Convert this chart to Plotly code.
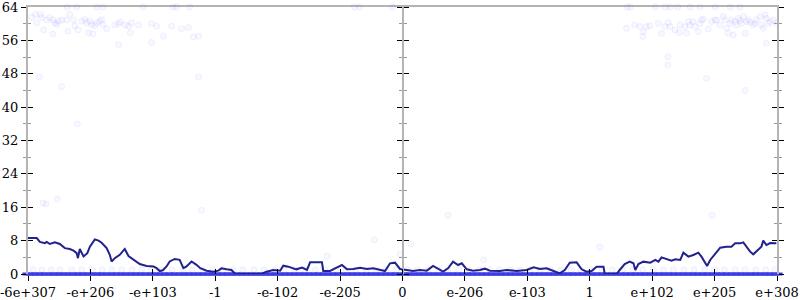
import plotly.graph_objects as go

# ---- data -------------------------------------------------------------
tick_vals = [-6, -5, -4, -3, -2, -1, 0, 1, 2, 3, 4, 5, 6]
tick_text = ["-6e+307", "-e+206", "-e+103", "-1", "-e-102", "-e-205", "0",
             "e-206", "e-103", "1", "e+102", "e+205", "e+308"]
y_ticks = [0, 8, 16, 24, 32, 40, 48, 56, 64]
y_minor = [4, 12, 20, 28, 36, 44, 52, 60]

# moving average line
avg_x = [-6.0, -5.86, -5.81, -5.73, -5.70, -5.65, -5.57, -5.49, -5.41, -5.33, -5.27, -5.22,
         -5.20, -5.17, -5.11, -5.05, -5.01, -4.93, -4.87, -4.82, -4.74, -4.69, -4.66, -4.61,
         -4.53, -4.45, -4.39, -4.31, -4.21, -4.10, -3.99, -3.94, -3.89, -3.84, -3.78, -3.73,
         -3.65, -3.57, -3.51, -3.46, -3.38, -3.30, -3.24, -3.14, -3.03, -2.95, -2.90, -2.82,
         -2.74, -2.68, -2.55, -2.26, -2.18, -2.07, -1.96, -1.91, -1.83, -1.75, -1.70, -1.61,
         -1.53, -1.48, -1.29, -1.27, -1.16, -1.08, -0.97, -0.89, -0.79, -0.68, -0.57, -0.47,
         -0.36, -0.28, -0.20, -0.12, -0.04, 0.07, 0.17, 0.28, 0.39, 0.49, 0.60, 0.65,
         0.73, 0.81, 0.89, 0.95, 1.03, 1.13, 1.24, 1.32, 1.40, 1.56, 1.67, 1.83,
         1.99, 2.10, 2.20, 2.31, 2.42, 2.52, 2.60, 2.68, 2.79, 2.87, 2.95, 3.03,
         3.11, 3.16, 3.22, 3.24, 3.43, 3.48, 3.56, 3.64, 3.70, 3.73, 3.78, 3.86,
         3.97, 4.05, 4.10, 4.15, 4.23, 4.31, 4.37, 4.45, 4.50, 4.58, 4.66, 4.74,
         4.79, 4.85, 4.88, 4.93, 5.01, 5.09, 5.19, 5.27, 5.33, 5.41, 5.46, 5.51,
         5.57, 5.62, 5.70, 5.75, 5.78, 5.83, 5.89, 5.99]
avg_y = [8.6, 8.6, 7.7, 7.4, 7.7, 7.2, 7.6, 7.2, 6.2, 6.0, 5.6, 5.0,
         3.8, 6.0, 4.2, 5.0, 6.5, 8.3, 8.0, 7.5, 6.2, 4.6, 3.0, 3.8,
         4.6, 6.0, 4.3, 3.4, 2.4, 1.9, 1.8, 1.4, 0.7, 0.9, 1.8, 3.0,
         3.6, 3.4, 1.4, 1.8, 3.0, 2.2, 1.4, 0.8, 0.56, 0.8, 1.36, 1.12,
         0.96, 0.0, 0.0, 0.0, 0.56, 0.96, 0.8, 2.0, 1.76, 1.36, 1.12, 1.52,
         0.96, 2.8, 2.8, 0.72, 0.72, 1.36, 2.16, 1.12, 1.2, 1.52, 1.2, 1.36,
         0.96, 0.72, 2.56, 2.72, 1.2, 0.96, 0.72, 0.96, 0.8, 1.92, 0.96, 0.56,
         1.36, 2.96, 2.16, 2.56, 1.12, 0.8, 0.96, 1.28, 0.8, 0.72, 0.96, 0.72,
         0.96, 1.6, 1.2, 1.36, 0.72, 0.16, 0.96, 2.72, 2.8, 1.12, 0.56, 0.72,
         1.76, 1.76, 1.76, 0.0, 0.0, 0.96, 2.4, 2.96, 2.56, 0.96, 2.4, 2.96,
         2.72, 3.36, 2.96, 4.0, 3.52, 3.2, 3.52, 3.36, 5.12, 4.16, 4.56, 5.12,
         4.16, 2.56, 1.92, 3.36, 4.96, 6.31, 6.55, 6.55, 7.35, 7.35, 7.59, 6.55,
         5.36, 4.72, 5.92, 6.55, 7.99, 6.95, 7.43, 7.35]

# individual samples (upper cluster)
high_x = [-5.94, -5.88, -5.80, -5.78, -5.70, -5.65, -5.60, -5.57, -5.54, -5.51, -5.46, -5.38,
          -5.33, -5.27, -5.25, -5.20, -5.14, -5.09, -5.06, -5.01, -4.98, -4.93, -4.90, -4.85,
          -4.82, -4.80, -4.74, -4.61, -4.55, -4.52, -4.44, -4.39, -4.36, -4.34, -4.23, -4.02,
          -3.94, -3.83, -3.70, -3.54, -3.43, -3.35, -3.27, -5.86, -5.75, -5.60, -5.36, -5.03,
          -4.96, -4.55, -4.02,
          3.59, 3.72, 3.805, 3.86, 3.85, 3.91, 3.965, 4.10, 4.15, 4.205, 4.26, 4.285,
          4.365, 4.435, 4.445, 4.525, 4.55, 4.58, 4.605, 4.65, 4.685, 4.74, 4.765, 4.79,
          4.82, 4.90, 4.95, 5.006, 5.03, 5.086, 5.14, 5.166, 5.19, 5.22, 5.25, 5.27,
          5.30, 5.33, 5.35, 5.38, 5.41, 5.43, 5.46, 5.51, 5.54, 5.57, 5.62, 5.65,
          5.67, 5.73, 5.75, 5.78, 5.81, 5.83, 5.86, 5.89, 5.94, 5.99, 5.83, 5.49]
high_y = [61.5, 62.2, 62.2, 61.5, 60.9, 61.5, 60.9, 60.2, 59.8, 60.6, 60.9, 60.9,
          62.2, 60.9, 59.5, 58.5, 60.6, 61.0, 60.2, 60.6, 59.8, 59.5, 60.2, 60.6,
          61.0, 59.8, 58.8, 59.7, 60.0, 60.4, 59.7, 59.4, 57.8, 60.2, 59.7, 60.0,
          59.4, 57.0, 59.4, 58.8, 59.1, 56.8, 57.0, 60.2, 58.5, 57.5, 58.2, 57.8,
          57.6, 55.0, 55.5,
          58.9, 59.7, 59.3, 58.1, 56.9, 59.3, 59.5, 60.1, 57.7, 59.3, 60.3, 59.3,
          58.5, 57.9, 59.7, 59.3, 57.7, 60.5, 59.7, 60.5, 59.3, 58.1, 60.0, 60.9,
          61.1, 58.7, 60.5, 60.9, 60.8, 59.7, 61.7, 60.9, 58.9, 57.7, 60.1, 60.9,
          57.3, 60.5, 59.7, 61.3, 60.8, 60.1, 61.7, 60.5, 60.9, 60.3, 59.7, 60.1,
          60.9, 61.7, 59.7, 58.9, 62.1, 61.3, 60.1, 60.5, 60.9, 60.1, 55.3, 57.7]

# samples at the top edge
top_x = [-5.37, -5.22, -4.90, -4.80, -4.16, -3.68, -3.62, -3.41, -0.77, -0.69, -0.16,
         3.60, 3.65, 4.05, 4.21, 4.29, 4.41, 4.61, 4.77, 5.01, 5.25, 5.41]
top_y = [64] * len(top_x)

# scattered samples in between
mid_x = [-5.76, -5.71, -5.21, -5.53, -5.82, -5.46, -3.27, -3.22, -1.21, -0.45,
         0.73, 0.13, -0.04, 1.30, 4.96, 3.16, 4.25, 4.25, 4.87, 5.49]
mid_y = [17.0, 16.8, 36.0, 18.0, 47.2, 44.9, 47.2, 15.3, 4.3, 8.2,
         14.1, 7.2, 4.8, 3.4, 14.0, 6.5, 52.1, 50.1, 46.9, 44.0]

# samples at one
one_x = [-5.92, -5.78, -5.63, -5.49, -5.30, -5.14, -4.98, -4.81, -4.66, -4.50, -4.33, -4.18,
         -4.02, -3.86, -3.69, -3.51, -3.37, -3.20, -3.04, -2.88, -2.71, -2.56, -2.38, -2.22,
         -2.05, -1.90, -1.72, -1.57, -1.40, -1.24, -1.07, -0.91, -0.75, -0.58, -0.42, -0.26,
         -0.09, 0.08, 0.24, 0.41, 0.57, 0.73, 0.90, 1.06, 1.23, 1.40, 1.55, 1.72,
         1.88, 2.05, 2.21, 2.37, 2.54, 2.70, 2.86, 3.03, 3.20, 3.36, 3.52, 3.69,
         3.85, 4.02, 4.18, 4.34, 4.51, 4.67, 4.84, 5.00, 5.16, 5.33, 5.49, 5.66, 5.82, 5.97]
one_y = [1] * len(one_x)

# samples at zero
zero_x = [-6.00, -5.93, -5.85, -5.78, -5.70, -5.61, -5.55, -5.47, -5.40, -5.31, -5.24, -5.16,
          -5.09, -5.01, -4.92, -4.86, -4.78, -4.70, -4.62, -4.55, -4.47, -4.39, -4.31, -4.24,
          -4.16, -4.08, -4.00, -3.93, -3.85, -3.77, -3.70, -3.62, -3.54, -3.46, -3.39, -3.31,
          -3.23, -3.16, -3.08, -3.00, -2.92, -2.85, -2.77, -2.69, -2.62, -2.54, -2.46, -2.38,
          -2.31, -2.23, -2.15, -2.08, -2.00, -1.92, -1.85, -1.77, -1.69, -1.61, -1.54, -1.46,
          -1.38, -1.31, -1.23, -1.15, -1.08, -1.00, -0.92, -0.84, -0.77, -0.69, -0.61, -0.54,
          -0.46, -0.38, -0.31, -0.23, -0.15, -0.08, 0.00, 0.07, 0.15, 0.23, 0.31, 0.38,
          0.46, 0.54, 0.62, 0.69, 0.77, 0.85, 0.92, 1.00, 1.08, 1.15, 1.23, 1.31,
          1.38, 1.46, 1.54, 1.62, 1.69, 1.77, 1.85, 1.92, 2.00, 2.08, 2.15, 2.23,
          2.31, 2.38, 2.46, 2.54, 2.62, 2.69, 2.77, 2.85, 2.92, 3.00, 3.08, 3.15,
          3.23, 3.31, 3.38, 3.46, 3.54, 3.62, 3.69, 3.77, 3.85, 3.92, 4.00, 4.08,
          4.15, 4.23, 4.31, 4.38, 4.46, 4.54, 4.62, 4.69, 4.77, 4.85, 4.92, 5.00,
          5.08, 5.15, 5.23, 5.31, 5.38, 5.46, 5.54, 5.62, 5.69, 5.77, 5.85, 5.92, 6.00]
zero_y = [0] * len(zero_x)

# ---- figure -----------------------------------------------------------
FONT = "DejaVu Serif"
pt_fill = "rgba(70,70,255,0.035)"
pt_line = "rgba(70,70,255,0.07)"

fig = go.Figure()

for xs, ys in [(high_x, high_y), (top_x, top_y), (mid_x, mid_y), (one_x, one_y)]:
    fig.add_trace(go.Scatter(x=xs, y=ys, mode="markers", cliponaxis=False,
                             marker=dict(size=6, color=pt_fill,
                                         line=dict(width=1, color=pt_line)),
                             hoverinfo="skip", showlegend=False))

fig.add_trace(go.Scatter(x=zero_x, y=zero_y, mode="markers", cliponaxis=False,
                         marker=dict(symbol="line-ew", size=8, color="#3c3ce8",
                                     line=dict(width=3, color="#3c3ce8")),
                         hoverinfo="skip", showlegend=False))

fig.add_trace(go.Scatter(x=avg_x, y=avg_y, mode="lines", cliponaxis=False,
                         line=dict(color="#22228c", width=2),
                         hoverinfo="skip", showlegend=False))

# dummy traces so overlay axes are drawn
for xa, ya in [("x2", "y"), ("x", "y2"), ("x", "y3"), ("x", "y4"), ("x", "y5"), ("x", "y6")]:
    fig.add_trace(go.Scatter(x=[None], y=[None], xaxis=xa, yaxis=ya,
                             hoverinfo="skip", showlegend=False))

AXLINE = "#b4b4b4"
tickfont = dict(family=FONT, size=13, color="black")

def yax(**kw):
    d = dict(range=[0, 64], tickvals=y_ticks, ticklen=5, tickwidth=1, tickcolor="black",
             showgrid=False, zeroline=False, fixedrange=True, automargin=False,
             ticklabeloverflow="allow",
             minor=dict(tickvals=y_minor, ticklen=3, tickcolor="#999999", tickwidth=1))
    d.update(kw)
    d["minor"]["ticks"] = d.get("ticks", "outside")
    return d

fig.update_layout(
    width=800, height=300,
    margin=dict(l=28, r=23, t=7, b=26, autoexpand=False),
    plot_bgcolor="white", paper_bgcolor="white",
    font=dict(family=FONT, size=13, color="black"),
    xaxis=dict(range=[-6, 6], tickvals=tick_vals, ticktext=tick_text, ticks="outside",
               ticklen=5, tickwidth=1, tickcolor="black", showline=True, linecolor=AXLINE,
               linewidth=2, mirror=True, showgrid=False, zeroline=False, tickfont=tickfont,
               automargin=False, ticklabeloverflow="allow", layer="below traces"),
    xaxis2=dict(overlaying="x", matches="x", range=[-6, 6], tickvals=tick_vals, ticks="inside",
                ticklen=5, tickwidth=1, tickcolor="black", showticklabels=False,
                showline=False, showgrid=False, zeroline=False, side="bottom", anchor="y",
                automargin=False),
    yaxis=yax(ticks="outside", showline=True, linecolor=AXLINE, linewidth=2,
              tickfont=tickfont, side="left"),
    yaxis2=yax(ticks="inside", overlaying="y", matches="y", side="left", anchor="x",
               showticklabels=False, showline=False),
    yaxis3=yax(ticks="outside", overlaying="y", matches="y", side="left", anchor="free",
               position=0.5, showticklabels=False, showline=True, linecolor=AXLINE, linewidth=2),
    yaxis4=yax(ticks="outside", overlaying="y", matches="y", side="right", anchor="free",
               position=0.5, showticklabels=False, showline=False),
    yaxis5=yax(ticks="outside", overlaying="y", matches="y", side="right", anchor="x",
               showticklabels=False, showline=True, linecolor=AXLINE, linewidth=2),
    yaxis6=yax(ticks="inside", overlaying="y", matches="y", side="right", anchor="x",
               showticklabels=False, showline=False),
)

fig.write_html("out.html")
